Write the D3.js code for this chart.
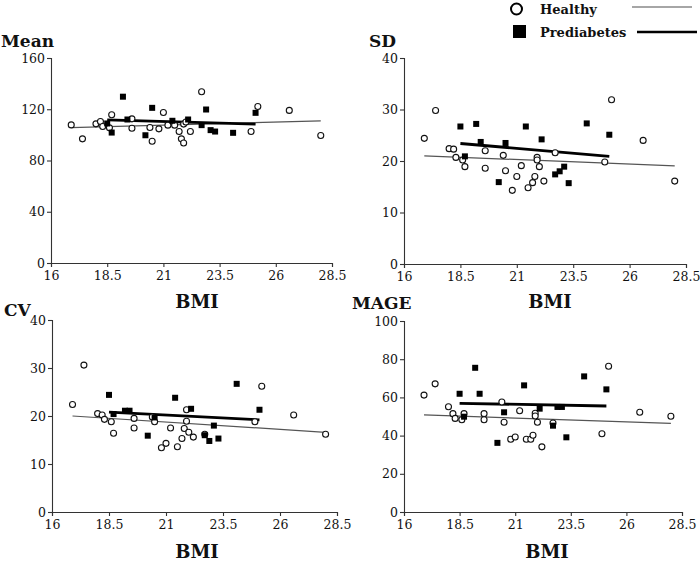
<!DOCTYPE html>
<html>
<head>
<meta charset="utf-8">
<script src="https://cdn.jsdelivr.net/npm/d3@7"></script>
<style>
  html, body { margin: 0; padding: 0; background: #fff; }
  svg { display: block; }
  text { font-family: "DejaVu Serif", "Liberation Serif", serif; fill: #111; }
</style>
</head>
<body>
<svg id="chart" width="700" height="561"></svg>
<script>
// ---------------- data ----------------
const xTicks = [16, 18.5, 21, 23.5, 26, 28.5];

const healthyBMI  = [16.9, 17.4, 18.0, 18.2, 18.3, 18.6, 18.7, 19.6, 19.6, 20.4, 20.5, 20.8, 21.0, 21.2, 21.5, 21.7, 21.8, 21.9, 21.9, 22.0, 22.2, 22.7, 24.9, 25.2, 26.6, 28.0];
const healthyMean = [107.8, 96.9, 108.6, 110.4, 106.5, 105.5, 115.7, 112.5, 105.2, 105.7, 95.0, 104.7, 117.5, 107.6, 107.6, 102.6, 96.9, 93.7, 108.4, 110.0, 102.6, 133.7, 102.6, 122.2, 119.1, 99.5];
const healthySD   = [24.4, 29.8, 22.4, 22.3, 20.7, 20.2, 18.9, 22.0, 18.6, 21.1, 18.1, 14.3, 17.0, 19.1, 14.8, 15.8, 17.0, 20.7, 20.2, 18.9, 16.1, 21.6, 19.8, 31.9, 24.0, 16.1];
const healthyCV   = [22.4, 30.6, 20.5, 20.2, 19.3, 18.8, 16.4, 19.5, 17.5, 19.8, 18.8, 13.4, 14.3, 17.5, 13.6, 15.3, 17.4, 21.3, 18.9, 16.6, 15.6, 16.2, 18.8, 26.2, 20.2, 16.2];
const healthyMAGE = [61.2, 67.1, 55.1, 51.5, 49.0, 48.3, 51.5, 51.5, 48.3, 57.6, 47.0, 38.1, 39.3, 53.0, 38.1, 38.1, 40.2, 51.7, 50.3, 47.0, 34.1, 46.6, 41.0, 76.3, 52.2, 50.1];

const preBMI  = [18.5, 18.7, 19.2, 19.4, 20.2, 20.5, 21.4, 22.1, 22.7, 22.9, 23.1, 23.3, 24.1, 25.1];
const preMean = [108.9, 101.8, 129.8, 112.0, 99.7, 121.1, 111.0, 112.0, 107.6, 119.8, 103.7, 102.6, 101.6, 117.2];
const preSD   = [26.7, 20.9, 27.2, 23.7, 15.9, 23.5, 26.7, 24.2, 17.4, 18.0, 18.9, 15.7, 27.3, 25.1];
const preCV   = [24.4, 20.4, 21.1, 21.1, 15.9, 19.7, 23.8, 21.5, 16.0, 14.8, 18.0, 15.3, 26.7, 21.3];
const preMAGE = [61.9, 49.9, 75.5, 61.9, 36.2, 52.2, 66.3, 54.1, 45.2, 55.0, 55.0, 39.1, 71.0, 64.2];

// fitted regression lines (values at the ends of each group's BMI range)
const healthyFitBMI = [16.9, 28.0];
const preFitBMI     = [18.5, 25.1];
const healthyFitMean = [105.7, 110.9], preFitMean = [111.7, 108.4];
const healthyFitSD   = [21.0, 19.05], preFitSD   = [23.4, 20.9];
const healthyFitCV   = [20.0, 16.6],  preFitCV   = [20.8, 19.2];
const healthyFitMAGE = [50.8, 46.4],  preFitMAGE = [56.9, 55.5];

const panelTitles = ["Mean", "SD", "CV", "MAGE"];
const yTicksMean = [0, 40, 80, 120, 160];
const yTicksSD   = [0, 10, 20, 30, 40];
const yTicksCV   = [0, 10, 20, 30, 40];
const yTicksMAGE = [0, 20, 40, 60, 80, 100];
const xLabel = "BMI";
const legendLabels = ["Healthy", "Prediabetes"];

// ---------------- layout ----------------
const panels = [
  { title: panelTitles[0], yTicks: yTicksMean, h: healthyMean, p: preMean, hf: healthyFitMean, pf: preFitMean,
    x0: 51, x1: 332, y0: 58, y1: 263, tx: 1, ty: 46.5, lx: 197, ly: 308 },
  { title: panelTitles[1], yTicks: yTicksSD, h: healthySD, p: preSD, hf: healthyFitSD, pf: preFitSD,
    x0: 404, x1: 686, y0: 58, y1: 264, tx: 369, ty: 46.5, lx: 550, ly: 308 },
  { title: panelTitles[2], yTicks: yTicksCV, h: healthyCV, p: preCV, hf: healthyFitCV, pf: preFitCV,
    x0: 52, x1: 337, y0: 320, y1: 512, tx: 4, ty: 316, lx: 197, ly: 558 },
  { title: panelTitles[3], yTicks: yTicksMAGE, h: healthyMAGE, p: preMAGE, hf: healthyFitMAGE, pf: preFitMAGE,
    x0: 404, x1: 682, y0: 321, y1: 512, tx: 352, ty: 309, lx: 547, ly: 558 }
];

const svg = d3.select("#chart");

panels.forEach(P => {
  const x = d3.scaleLinear().domain([16, 28.5]).range([P.x0, P.x1]);
  const y = d3.scaleLinear().domain([0, d3.max(P.yTicks)]).range([P.y1, P.y0]);
  const g = svg.append("g");

  const xa = g.append("g").attr("transform", `translate(0,${P.y1})`)
    .call(d3.axisBottom(x).tickValues(xTicks).tickFormat(d => String(d)).tickSize(4).tickPadding(4));
  const ya = g.append("g").attr("transform", `translate(${P.x0},0)`)
    .call(d3.axisLeft(y).tickValues(P.yTicks).tickSize(4).tickPadding(2));
  [xa, ya].forEach(a => {
    a.select(".domain").attr("stroke", "#333").attr("stroke-width", 1.1);
    a.selectAll(".tick line").attr("stroke", "#333").attr("stroke-width", 1.1);
    a.selectAll(".tick text").style("font-family", '"DejaVu Serif", serif')
      .style("font-size", "12.5px").attr("fill", "#111");
  });

  // title & x label
  g.append("text").attr("x", P.tx).attr("y", P.ty).text(P.title)
    .style("font-size", "17px").style("font-weight", "bold");
  g.append("text").attr("x", P.lx).attr("y", P.ly).attr("text-anchor", "middle").text(xLabel)
    .style("font-size", "18px").style("font-weight", "bold");

  // fit lines
  const line = d3.line().x(d => x(d[0])).y(d => y(d[1]));
  g.append("path").datum(d3.zip(healthyFitBMI, P.hf)).attr("d", line)
    .attr("fill", "none").attr("stroke", "#555").attr("stroke-width", 1.2);
  g.append("path").datum(d3.zip(preFitBMI, P.pf)).attr("d", line)
    .attr("fill", "none").attr("stroke", "#000").attr("stroke-width", 2.8);

  // healthy points
  g.selectAll("circle.h").data(d3.zip(healthyBMI, P.h)).join("circle")
    .attr("class", "h")
    .attr("cx", d => x(d[0])).attr("cy", d => y(d[1])).attr("r", 3)
    .attr("fill", "#fff").attr("stroke", "#111").attr("stroke-width", 1.1);

  // prediabetes points
  const s = 6;
  g.selectAll("rect.p").data(d3.zip(preBMI, P.p)).join("rect")
    .attr("class", "p")
    .attr("x", d => x(d[0]) - s / 2).attr("y", d => y(d[1]) - s / 2)
    .attr("width", s).attr("height", s).attr("fill", "#000");
});

// ---------------- legend ----------------
const lg = svg.append("g");
lg.append("circle").attr("cx", 516.5).attr("cy", 9).attr("r", 5.5)
  .attr("fill", "#fff").attr("stroke", "#000").attr("stroke-width", 2);
lg.append("text").attr("x", 540).attr("y", 14).text(legendLabels[0])
  .style("font-size", "13px").style("font-weight", "bold");
lg.append("line").attr("x1", 632).attr("x2", 692).attr("y1", 7).attr("y2", 7)
  .attr("stroke", "#888").attr("stroke-width", 1.5);
lg.append("rect").attr("x", 513).attr("y", 25).attr("width", 13).attr("height", 13).attr("fill", "#000");
lg.append("text").attr("x", 540).attr("y", 37).text(legendLabels[1])
  .style("font-size", "13px").style("font-weight", "bold");
lg.append("line").attr("x1", 637).attr("x2", 697).attr("y1", 32).attr("y2", 32)
  .attr("stroke", "#000").attr("stroke-width", 2.5);
</script>
</body>
</html>
